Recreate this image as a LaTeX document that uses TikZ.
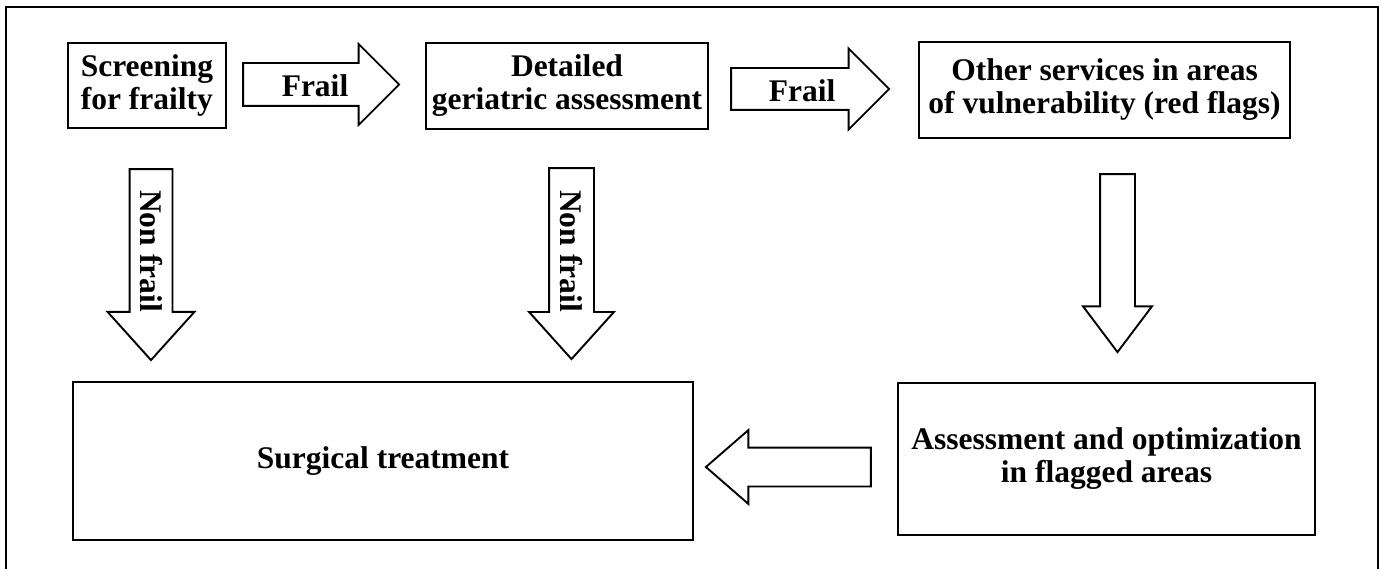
\documentclass[tikz,border=0pt]{standalone}
\usepackage{fontspec}
\setmainfont{Liberation Serif}
\usetikzlibrary{positioning, shapes.arrows}

\begin{document}
\begin{tikzpicture}[
    x=1pt, y=-1pt,
    every node/.style={font=\fontsize{31.5}{33}\selectfont\bfseries},
    box/.style={draw, line width=2.3pt, align=center, inner sep=0pt},
    blockarrow/.style={draw, line width=1.9pt, single arrow, anchor=tail, inner xsep=0pt, single arrow tip angle=84},
    lbl/.style={inner sep=0pt},
  ]
  \useasboundingbox (0,0) rectangle (1382,569);
  \draw[line width=1.5pt] (6,7) rectangle (1378,576);

  % ---- top row ----
  \node[box, align=left, minimum width=158pt, minimum height=85pt] (screen) at (147,85.5) {Screening\\for frailty};
  \node[box, minimum width=282pt, minimum height=86pt] (detail) at (567,86) {Detailed\\geriatric assessment};
  \node[box, minimum width=371pt, minimum height=96pt] (other) at (1104.5,90) {Other services in areas\\of vulnerability (red flags)};

  % ---- bottom row ----
  \node[box, minimum width=620pt, minimum height=158pt] (surgery) at (383,461) {Surgical treatment};
  \node[box, minimum width=417pt, minimum height=152pt] (optim) at (1106.5,459) {Assessment and optimization\\in flagged areas};

  % ---- block arrows ----
  \node[blockarrow, inner ysep=20.5pt, single arrow head extend=19pt, single arrow tip angle=90, minimum height=156pt] (frail1) at ([xshift=15pt, yshift=1pt]screen.east) {};
  \node[blockarrow, inner ysep=20pt, single arrow head extend=19.5pt, single arrow tip angle=90, minimum height=158pt] (frail2) at ([xshift=21pt, yshift=-3pt]detail.east) {};
  \node[blockarrow, rotate=-90, inner ysep=20.5pt, single arrow head extend=22pt, minimum height=191pt] (nonfrail1) at ([xshift=4pt, yshift=-39pt]screen.south) {};
  \node[blockarrow, rotate=-90, inner ysep=21.5pt, single arrow head extend=20pt, minimum height=191pt] (nonfrail2) at ([xshift=4.5pt, yshift=-37pt]detail.south) {};
  \node[blockarrow, rotate=-90, inner ysep=16.5pt, single arrow head extend=17pt, single arrow tip angle=74, minimum height=178pt] (flagged) at ([xshift=13pt, yshift=-34pt]other.south) {};
  \node[blockarrow, rotate=180, inner ysep=18.5pt, single arrow head extend=17.5pt, single arrow tip angle=82, minimum height=165pt] (back) at ([xshift=-25pt, yshift=-8pt]optim.west) {};

  % ---- arrow labels ----
  \node[lbl] at (315,85.5) {Frail};
  \node[lbl] at (802,91) {Frail};
  \node[lbl, rotate=-90] at (151,251) {Non frail};
  \node[lbl, rotate=-90] at (571.5,251) {Non frail};

\end{tikzpicture}
\end{document}
